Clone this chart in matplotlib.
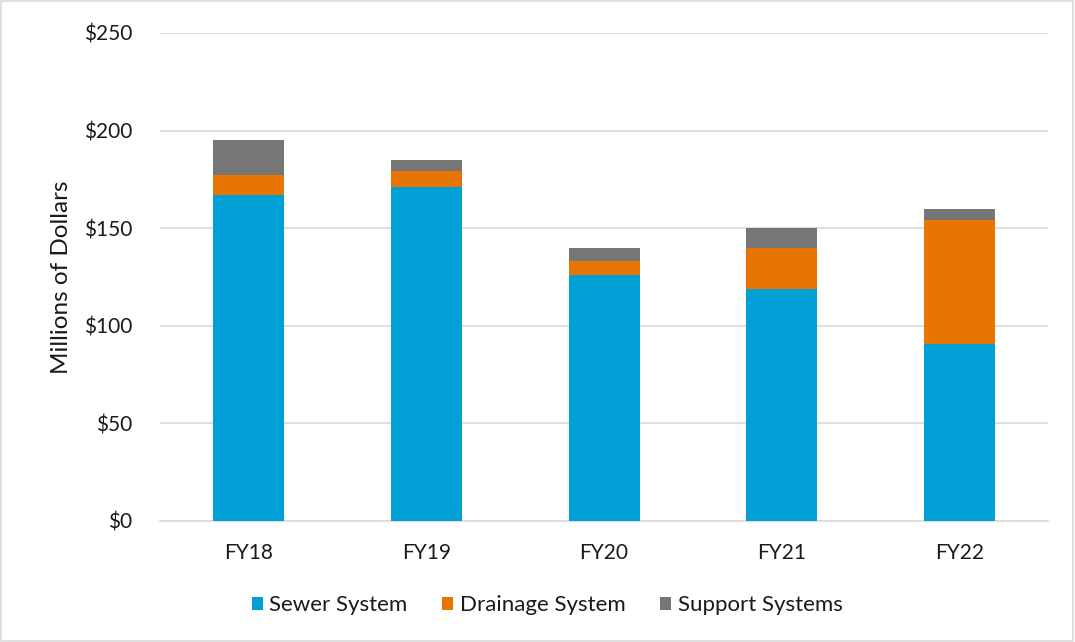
import matplotlib.pyplot as plt
import numpy as np
from matplotlib.patches import Rectangle

plt.rcParams['font.family'] = ['Lato', 'DejaVu Sans']

# data
years = ['FY18', 'FY19', 'FY20', 'FY21', 'FY22']
sewer = [166.9, 171.0, 126.0, 118.7, 90.6]
drainage = [10.5, 8.3, 7.4, 21.0, 63.5]
support = [17.8, 5.7, 6.6, 10.5, 5.8]

c_sewer = '#00a0d6'
c_drain = '#e87502'
c_support = '#767676'
txt = '#1a1a1a'

fig = plt.figure(figsize=(10.75, 6.42), dpi=100, facecolor='white')
ax = fig.add_axes([0.1488, 0.1885, 0.8262, 0.7601])

x = np.arange(len(years))
w = 0.4
sewer = np.array(sewer)
drainage = np.array(drainage)
support = np.array(support)

ax.bar(x, sewer, w, color=c_sewer, label='Sewer System', zorder=3)
ax.bar(x, drainage, w, bottom=sewer, color=c_drain, label='Drainage System', zorder=3)
ax.bar(x, support, w, bottom=sewer + drainage, color=c_support, label='Support Systems', zorder=3)

ax.set_xlim(-0.5, 4.5)
ax.set_ylim(0, 250)
ax.set_yticks(np.arange(0, 251, 50))
ax.set_yticklabels([f'${v}' for v in range(0, 251, 50)], fontsize=15)
ax.set_xticks(x)
ax.set_xticklabels(years, fontsize=15)
ax.tick_params(axis='both', length=0, colors=txt)
ax.tick_params(axis='y', pad=20)
ax.tick_params(axis='x', pad=16)
ax.grid(axis='y', color='#d9d9d9', linewidth=1.2, zorder=0)
for s in ['top', 'right', 'left']:
    ax.spines[s].set_visible(False)
ax.spines['bottom'].set_color('#d9d9d9')
ax.spines['bottom'].set_linewidth(1.2)

ax.set_ylabel('Millions of Dollars', fontsize=17.5, color=txt)
ax.yaxis.set_label_coords(-0.099, 0.5)

fig.legend(loc='center', bbox_to_anchor=(0.509, 0.057), ncol=3, frameon=False,
           fontsize=16, handlelength=0.5, handleheight=0.5, handletextpad=0.3,
           columnspacing=1.55, labelcolor=txt)

# light frame around the chart
fig.patches.append(Rectangle((0.001, 0.002), 0.997, 0.996, transform=fig.transFigure,
                             fill=False, edgecolor='#d9d9d9', linewidth=1.2))

plt.savefig('out.png', dpi=100, facecolor='white')
